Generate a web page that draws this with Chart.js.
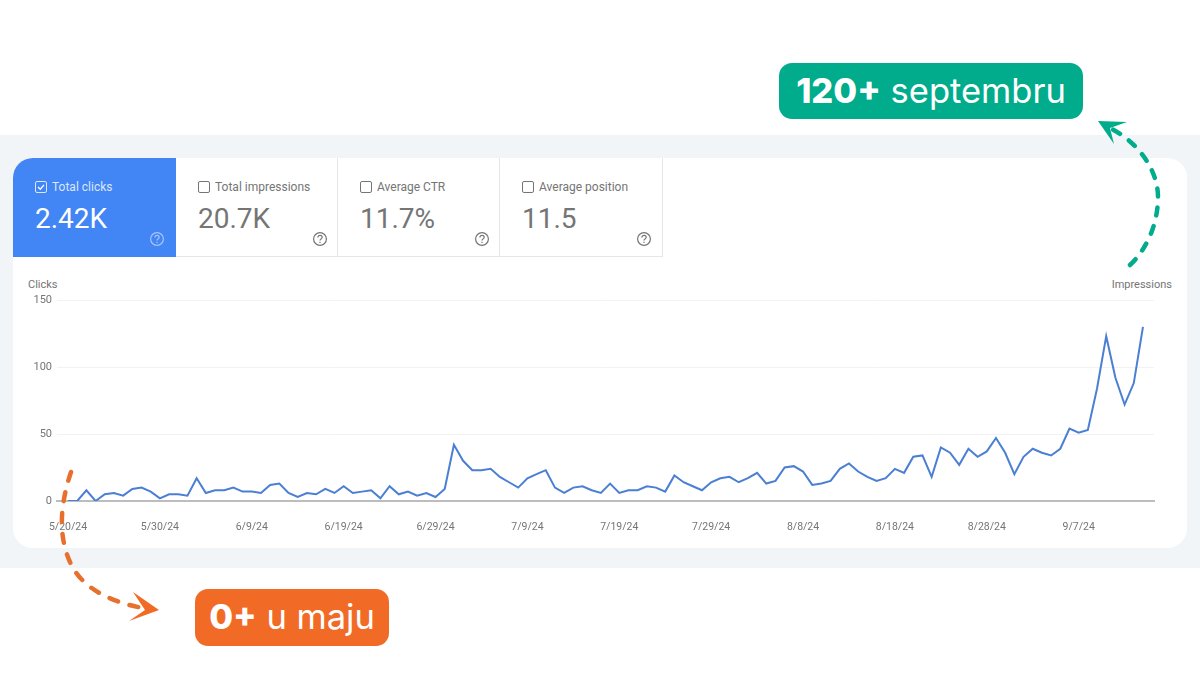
<!DOCTYPE html>
<html>
<head>
<meta charset="utf-8">
<title>Clicks</title>
<script src="https://cdn.jsdelivr.net/npm/chart.js@4"></script>
<style>
  html, body { margin: 0; padding: 0; background: #fff; }
  #page { position: relative; width: 1200px; height: 700px; overflow: hidden; font-family: Roboto, sans-serif; }
  #band { position: absolute; left: 0; top: 135px; width: 1200px; height: 433px; background: #f1f5f8; }
  #card { position: absolute; left: 13px; top: 158px; width: 1174px; height: 390px; background: #fff; border-radius: 20px; }
  .tile { position: absolute; top: 158px; width: 162px; height: 99px; box-sizing: border-box; background: #fff;
          border-right: 1px solid #e6e6e6; border-bottom: 1px solid #e6e6e6; color: #757575; }
  .tile.active { background: #4285f4; color: #fff; border: 0; border-top-left-radius: 20px; }
  .box { position: absolute; left: 22px; top: 23px; width: 12px; height: 12px; box-sizing: border-box; border: 1.4px solid #757575; border-radius: 2px; }
  .active .box { border-color: #dbe7fd; }
  .active .box svg { position: absolute; left: 0; top: 0; }
  .name { position: absolute; left: 39px; top: 22px; font-size: 12px; line-height: 14px; white-space: nowrap; }
  .active .name { color: #dbe7fd; }
  .value { position: absolute; left: 22px; top: 44px; font-size: 28px; line-height: 34px; white-space: nowrap; }
  .help { position: absolute; left: 136px; top: 73px; }
  #chartWrap { position: absolute; left: 0; top: 270px; width: 1200px; height: 260px; }
  .axisName { position: absolute; top: 278px; font-size: 11px; line-height: 14px; color: #757575; }
  .badge { position: absolute; color: #fff; font-family: Inter, sans-serif; white-space: nowrap; border-radius: 13px; text-align: center; }
  .badge b { font-weight: 800; }
  #arrows { position: absolute; left: 0; top: 0; }
</style>
</head>
<body>
<div id="page">
  <div id="band"></div>
  <div id="card"></div>
  <div id="tiles"></div>
  <div class="axisName" style="left:28px">Clicks</div>
  <div class="axisName" style="right:28px">Impressions</div>
  <div id="chartWrap"><canvas id="clicksChart" width="1200" height="260"></canvas></div>
  <div class="badge" style="left:779px;top:63px;width:304px;height:56px;line-height:55px;background:#00ac8c;font-size:34.5px"><b>120+</b> septembru</div>
  <div class="badge" style="left:195px;top:589px;width:194px;height:57px;line-height:56px;background:#f26b26;font-size:34.5px"><b>0+</b> u maju</div>
  <svg id="arrows" width="1200" height="700" fill="none" stroke-width="4.5" stroke-linecap="round">
    <path d="M1130 265 C1146 250 1158 225 1158 197 C1158 170 1138 142 1110 128" stroke="#00ac8c" stroke-dasharray="8 11"/>
    <path d="M1098 121 L1127 122 L1110 128 L1114 144 Z" fill="#00ac8c"/>
    <path d="M71 472 C60 505 58 535 70 562 C82 590 115 603 143 608" stroke="#e8702f" stroke-dasharray="9 12"/>
    <path d="M159 610 L133 592 L145 610 L129 621 Z" fill="#f26b26"/>
  </svg>
</div>

<script>
// Daily clicks, 5/20/24 to 9/14/24
const clicks = [
  0, 0, 8, 0, 5, 6, 4, 9, 10, 7,
  2, 5, 5, 4, 17, 6, 8, 8, 10, 7,
  7, 6, 12, 13, 6, 3, 6, 5, 9, 6,
  11, 6, 7, 8, 2, 11, 5, 7, 4, 6,
  3, 9, 42, 30, 23, 23, 24, 18, 14, 10,
  17, 20, 23, 10, 6, 10, 11, 8, 6, 13,
  6, 8, 8, 11, 10, 7, 19, 14, 11, 8,
  14, 17, 18, 14, 17, 21, 13, 15, 25, 26,
  22, 12, 13, 15, 24, 28, 22, 18, 15, 17,
  24, 21, 33, 34, 18, 40, 36, 27, 39, 33,
  37, 47, 36, 20, 33, 39, 36, 34, 39, 54,
  51, 53, 84, 123, 92, 72, 88, 130
];
const xTickLabels = ['5/20/24', '5/30/24', '6/9/24', '6/19/24', '6/29/24', '7/9/24', '7/19/24', '7/29/24', '8/8/24', '8/18/24', '8/28/24', '9/7/24'];
const yTickValues = [0, 50, 100, 150];

const tileNames = ['Total clicks', 'Total impressions', 'Average CTR', 'Average position'];
const tileValues = ['2.42K', '20.7K', '11.7%', '11.5'];

// Metric tiles above the chart
const tiles = document.getElementById('tiles');
tileNames.forEach((name, i) => {
  const tile = document.createElement('div');
  const active = i === 0;
  const helpColor = active ? '#a9c6fa' : '#757575';
  tile.className = active ? 'tile active' : 'tile';
  tile.style.left = (13 + [0, 163, 325, 487][i]) + 'px';
  tile.style.width = [163, 162, 162, 163][i] + 'px';
  tile.innerHTML =
    '<div class="box">' + (active ? '<svg width="10" height="10" fill="none" stroke="#fff" stroke-width="1.3"><path d="M2 5 L4.3 7.2 L8 2.8"/></svg>' : '') + '</div>' +
    '<div class="name">' + name + '</div>' +
    '<div class="value">' + tileValues[i] + '</div>' +
    '<svg class="help" width="16" height="16" fill="none" stroke="' + helpColor + '" stroke-width="1.2">' +
    '<circle cx="8" cy="8" r="6.4"/><path d="M5.9 6.4 C6 3.7 10.2 3.8 10.2 6.3 C10.2 7.9 8 7.9 8 9.6"/><path d="M8 10.8 V12"/></svg>';
  tiles.appendChild(tile);
});

// Clicks chart
const ctx = document.getElementById('clicksChart').getContext('2d');
new Chart(ctx, {
  type: 'line',
  data: {
    datasets: [{
      data: clicks.map((value, index) => ({ x: index, y: value })),
      borderColor: '#4a7fd3',
      borderWidth: 2,
      pointRadius: 0,
      tension: 0
    }]
  },
  options: {
    responsive: false,
    animation: false,
    layout: { padding: { left: 0, right: 46, top: 30, bottom: 0 } },
    plugins: {
      legend: { display: false },
      tooltip: { enabled: false }
    },
    scales: {
      x: {
        type: 'linear',
        min: -1.2,
        max: 118.2,
        afterBuildTicks: axis => { axis.ticks = xTickLabels.map((label, i) => ({ value: i * 10 })); },
        afterFit: axis => { axis.height = 29; },
        grid: { display: false },
        border: { color: '#bdbdbd', width: 2 },
        ticks: {
          autoSkip: false,
          maxRotation: 0,
          padding: 12,
          color: '#757575',
          font: { family: 'Roboto', size: 10.5 },
          callback: value => xTickLabels[value / 10]
        }
      },
      y: {
        min: 0,
        max: 150,
        afterBuildTicks: axis => { axis.ticks = yTickValues.map(value => ({ value })); },
        afterFit: axis => { axis.width = 57; },
        grid: { color: '#f2f2f2', drawTicks: false },
        border: { display: false },
        ticks: {
          padding: 5,
          color: '#757575',
          font: { family: 'Roboto', size: 11 }
        }
      }
    }
  }
});
</script>
</body>
</html>
